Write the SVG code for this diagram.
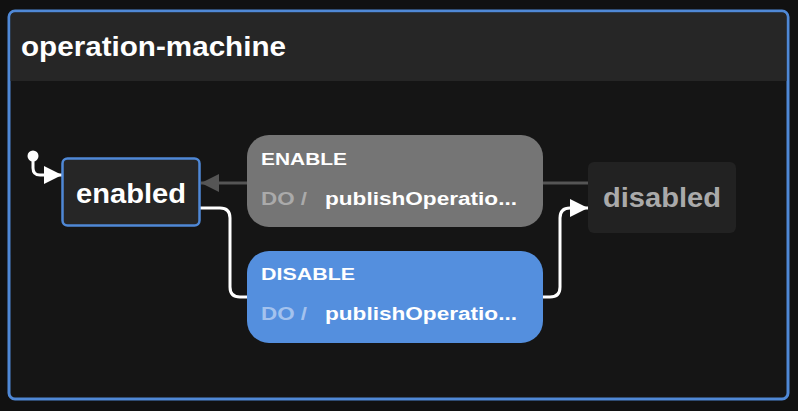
<svg xmlns="http://www.w3.org/2000/svg" width="798" height="411" viewBox="0 0 798 411">
<style>
text{font-family:"Liberation Sans",Arial,sans-serif;font-weight:bold}
.t{fill:#fff}
.lbl{font-size:17px}
.do{font-size:18px}
.wire{fill:none;stroke:#fff;stroke-width:3}
.dim{fill:none;stroke:#555;stroke-width:3}
</style>
<defs>
<marker id="aw" viewBox="0 0 10 10" refX="10" refY="5" markerWidth="18" markerHeight="18" markerUnits="userSpaceOnUse" orient="auto"><path d="M0,0 L10,5 L0,10 Z" fill="#fff"/></marker>
<marker id="ag" viewBox="0 0 10 10" refX="10" refY="5" markerWidth="18" markerHeight="18" markerUnits="userSpaceOnUse" orient="auto"><path d="M0,0 L10,5 L0,10 Z" fill="#555"/></marker>
</defs>
<rect width="798" height="411" fill="#111"/>
<g id="machine">
<rect x="9" y="11" width="779" height="388" rx="6" fill="#151515" stroke="#4f88d6" stroke-width="3"/>
<path d="M10.5,81 V17 Q10.5,12.5 15,12.5 H782 Q786.5,12.5 786.5,17 V81 Z" fill="#262626"/>
<text x="21" y="56" class="t" font-size="27.5" textLength="265" lengthAdjust="spacingAndGlyphs">operation-machine</text>
</g>
<g id="connectors">
<circle cx="33" cy="156" r="5.5" fill="#fff"/>
<path class="wire" d="M33,158 V168 Q33,175 40,175 H62" marker-end="url(#aw)"/>
<path class="dim" d="M588,183 H543"/>
<path class="dim" d="M247,183 H201" marker-end="url(#ag)"/>
<path class="wire" d="M200,208 H220 Q230,208 230,218 V287 Q230,297 240,297 H247"/>
<path class="wire" d="M543,297 H550 Q560,297 560,287 V218 Q560,208 570,208 H588" marker-end="url(#aw)"/>
</g>
<g id="enabled">
<rect x="62.5" y="158.5" width="137" height="67" rx="5" fill="#262626" stroke="#4f88d6" stroke-width="2.5"/>
<text x="131" y="203" class="t" font-size="27.5" text-anchor="middle" textLength="110" lengthAdjust="spacingAndGlyphs">enabled</text>
</g>
<g id="disabled">
<rect x="588" y="162" width="148" height="71" rx="6" fill="#222"/>
<text x="662" y="207" fill="#aaa" font-size="27.5" text-anchor="middle" textLength="118" lengthAdjust="spacingAndGlyphs">disabled</text>
</g>
<g id="t-enable">
<rect x="247" y="135" width="296" height="92" rx="22" fill="#757575"/>
<text x="261" y="165" class="t lbl" textLength="86" lengthAdjust="spacingAndGlyphs">ENABLE</text>
<text x="261" y="205" class="do" fill="#aaa" textLength="46" lengthAdjust="spacingAndGlyphs">DO /</text>
<text x="325" y="205" class="t do" textLength="192" lengthAdjust="spacingAndGlyphs">publishOperatio...</text>
</g>
<g id="t-disable">
<rect x="247" y="251" width="296" height="92" rx="22" fill="#548fde"/>
<text x="261" y="280" class="t lbl" textLength="94" lengthAdjust="spacingAndGlyphs">DISABLE</text>
<text x="261" y="320" class="do" fill="#a3c2ee" textLength="46" lengthAdjust="spacingAndGlyphs">DO /</text>
<text x="325" y="320" class="t do" textLength="192" lengthAdjust="spacingAndGlyphs">publishOperatio...</text>
</g>
</svg>
